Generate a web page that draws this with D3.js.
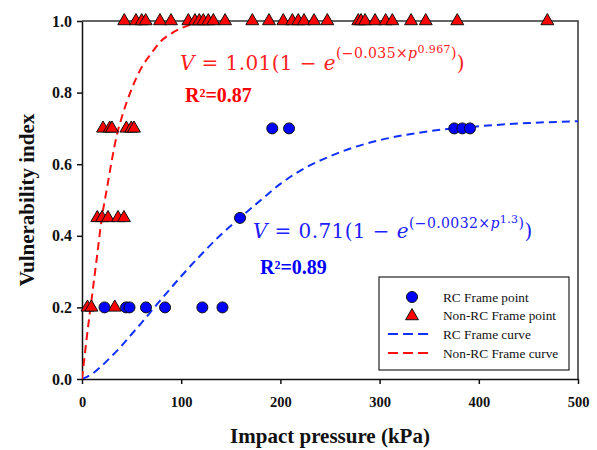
<!DOCTYPE html>
<html>
<head>
<meta charset="utf-8">
<script src="https://cdn.jsdelivr.net/npm/d3@7"></script>
<style>
  body { margin: 0; background: #fff; }
  svg { display: block; }
</style>
</head>
<body>
<svg id="chart"></svg>
<script>
// observed points (impact pressure kPa, vulnerability index)
const rcPressure = [22.7, 44.4, 47.9, 64.5, 83.7, 121.3, 141.6, 159.3, 191.8, 208.7, 375.3, 383.4, 391.1]
const rcIndex    = [0.2, 0.2, 0.2, 0.2, 0.2, 0.2, 0.2, 0.45, 0.7, 0.7, 0.7, 0.7, 0.7]

const nonRcPressure = [5.5, 9.5, 33,
  15.4, 20.2, 26.2, 36.3, 42.3,
  21.2, 27.9, 30.2, 44.7, 49.7, 52.4,
  42.6, 54.4, 60.2, 64.2, 78.6, 89.7, 107.2, 113.9, 118.2, 122.3, 127.3, 132.4, 144.2,
  171.7, 188.5, 202.9, 212, 218, 223.8, 233.9, 247.3, 278.5, 281.3, 285.3, 295.4,
  306.1, 312.8, 331.7, 346.5, 378.3, 469.1]
const nonRcIndex = [0.2, 0.2, 0.2,
  0.45, 0.45, 0.45, 0.45, 0.45,
  0.7, 0.7, 0.7, 0.7, 0.7, 0.7,
  1, 1, 1, 1, 1, 1, 1, 1, 1, 1, 1, 1, 1,
  1, 1, 1, 1, 1, 1, 1, 1, 1, 1, 1, 1,
  1, 1, 1, 1, 1, 1]

// fitted curves
const rcCurveP = [0, 10, 20, 30, 40, 50, 60, 80, 100, 120, 140, 160, 180, 200, 225, 250, 275, 300, 350, 400, 450, 500]
const rcCurveV = [0, 0.014, 0.037, 0.064, 0.093, 0.125, 0.157, 0.223, 0.287, 0.347, 0.403, 0.452, 0.499, 0.545, 0.59, 0.622, 0.648, 0.667, 0.692, 0.706, 0.715, 0.72]
const nonCurveP = [0, 5, 10, 15, 20, 25, 30, 35, 40, 50, 60, 70, 80, 90, 100, 110, 125]
const nonCurveV = [0, 0.12, 0.23, 0.34, 0.45, 0.53, 0.61, 0.68, 0.73, 0.81, 0.87, 0.91, 0.945, 0.965, 0.98, 0.99, 1.0]

const xTicks = [0, 100, 200, 300, 400, 500]
const yTicks = [0, 0.2, 0.4, 0.6, 0.8, 1.0]
const legendLabels = ["RC Frame point", "Non-RC Frame point", "RC Frame curve", "Non-RC Frame curve"]

const width = 597, height = 450
const plotL = 82, plotR = 578, plotT = 21, plotB = 379
const serif = "'Liberation Serif', 'Times New Roman', serif"
const mathFont = "'DejaVu Serif', serif"

const svg = d3.select("#chart").attr("width", width).attr("height", height)

let x = d3.scaleLinear().domain([0, 500]).range([plotL, plotR])
let y = d3.scaleLinear().domain([0, 1]).range([plotB, plotT])

svg.append("clipPath").attr("id", "plotClip")
  .append("rect").attr("x", plotL).attr("y", plotT)
  .attr("width", plotR - plotL).attr("height", plotB - plotT)

// frame (top + right)
svg.append("path")
  .attr("d", `M${plotL},${plotT}H${plotR}V${plotB}`)
  .attr("fill", "none").attr("stroke", "#333").attr("stroke-width", 1.5)

const xAxis = svg.append("g")
  .attr("transform", `translate(0,${plotB})`)
  .call(d3.axisBottom(x).tickValues(xTicks).tickSize(5).tickSizeOuter(0).tickPadding(13).tickFormat(d3.format("d")))
const yAxis = svg.append("g")
  .attr("transform", `translate(${plotL},0)`)
  .call(d3.axisLeft(y).tickValues(yTicks).tickSize(5).tickSizeOuter(0).tickPadding(5).tickFormat(d3.format(".1f")))

xAxis.selectAll("text").attr("font-family", serif).attr("font-weight", "bold").attr("font-size", 14.5).attr("fill", "#111")
yAxis.selectAll("text").attr("font-family", serif).attr("font-weight", "bold").attr("font-size", 16).attr("fill", "#111")
svg.selectAll(".domain, .tick line").attr("stroke", "#111").attr("stroke-width", 1.5)

// axis titles
svg.append("text")
  .attr("x", 330).attr("y", 443)
  .attr("text-anchor", "middle")
  .attr("font-family", serif).attr("font-weight", "bold").attr("font-size", 21)
  .attr("fill", "#111")
  .text("Impact pressure (kPa)")
svg.append("text")
  .attr("transform", "translate(34,200) rotate(-90)")
  .attr("text-anchor", "middle")
  .attr("font-family", serif).attr("font-weight", "bold").attr("font-size", 21)
  .attr("fill", "#111")
  .text("Vulnerability index")

// curves
const line = d3.line().x(d => x(d[0])).y(d => y(d[1])).curve(d3.curveMonotoneX)
const curves = svg.append("g").attr("clip-path", "url(#plotClip)")
curves.append("path")
  .datum(d3.zip(rcCurveP, rcCurveV))
  .attr("d", line)
  .attr("fill", "none").attr("stroke", "#1030ff").attr("stroke-width", 2)
  .attr("stroke-dasharray", "8,5")
curves.append("path")
  .datum(d3.zip(nonCurveP, nonCurveV))
  .attr("d", line)
  .attr("fill", "none").attr("stroke", "#ff1010").attr("stroke-width", 2)
  .attr("stroke-dasharray", "8,5")

// points
const tri = d3.symbol().type(d3.symbolTriangle).size(72)
svg.append("g").selectAll("path")
  .data(d3.zip(nonRcPressure, nonRcIndex))
  .join("path")
  .attr("d", tri)
  .attr("transform", d => `translate(${x(d[0])},${y(d[1])})`)
  .attr("fill", "#ff0000").attr("stroke", "#111").attr("stroke-width", 1)

svg.append("g").selectAll("circle")
  .data(d3.zip(rcPressure, rcIndex))
  .join("circle")
  .attr("cx", d => x(d[0])).attr("cy", d => y(d[1]))
  .attr("r", 5.5)
  .attr("fill", "#0000ff").attr("stroke", "#111").attr("stroke-width", 1)

// equations
function equation(xp, yp, color, coef, k, pw, dyExp) {
  const t = svg.append("text").attr("x", xp).attr("y", yp)
    .attr("font-family", mathFont).attr("font-size", 20).attr("fill", color)
    .attr("letter-spacing", 0.4)
  t.append("tspan").attr("font-style", "italic").text("V")
  t.append("tspan").text(` = ${coef}(1 − `)
  t.append("tspan").attr("font-style", "italic").text("e")
  t.append("tspan").attr("font-size", 14).attr("dy", dyExp).text(`(−${k}×`)
  t.append("tspan").attr("font-size", 14).attr("font-style", "italic").text("p")
  t.append("tspan").attr("font-size", 11).attr("dy", -5).text(pw)
  t.append("tspan").attr("font-size", 14).attr("dy", 5).text(")")
  t.append("tspan").attr("dy", -dyExp).text(")")
}
equation(180, 70, "#ff2020", "1.01", "0.035", "0.967", -12)
equation(253, 238, "#2020ff", "0.71", "0.0032", "1.3", -10)

svg.append("text").attr("x", 185).attr("y", 102)
  .attr("font-family", serif).attr("font-weight", "bold").attr("font-size", 20)
  .attr("fill", "#ff0000").text("R²=0.87")
svg.append("text").attr("x", 260).attr("y", 274)
  .attr("font-family", serif).attr("font-weight", "bold").attr("font-size", 20)
  .attr("fill", "#0000ff").text("R²=0.89")

// legend
const legend = svg.append("g")
legend.append("rect")
  .attr("x", 379).attr("y", 277).attr("width", 190).attr("height", 93)
  .attr("fill", "#fff").attr("stroke", "#222").attr("stroke-width", 1.2)
const rowY = [297, 315, 334, 353]
legend.append("circle").attr("cx", 412).attr("cy", rowY[0]).attr("r", 5.5)
  .attr("fill", "#0000ff").attr("stroke", "#111")
legend.append("path").attr("d", tri).attr("transform", `translate(412,${rowY[1] + 1})`)
  .attr("fill", "#ff0000").attr("stroke", "#111")
legend.append("line").attr("x1", 388).attr("x2", 428).attr("y1", rowY[2]).attr("y2", rowY[2])
  .attr("stroke", "#1030ff").attr("stroke-width", 2).attr("stroke-dasharray", "10,5")
legend.append("line").attr("x1", 388).attr("x2", 428).attr("y1", rowY[3]).attr("y2", rowY[3])
  .attr("stroke", "#ff1010").attr("stroke-width", 2).attr("stroke-dasharray", "10,5")
legend.selectAll(".lbl")
  .data(legendLabels)
  .join("text")
  .attr("class", "lbl")
  .attr("x", 443).attr("y", (d, i) => rowY[i] + 4.5)
  .attr("font-family", serif).attr("font-size", 13.3).attr("fill", "#111")
  .text(d => d)
</script>
</body>
</html>
